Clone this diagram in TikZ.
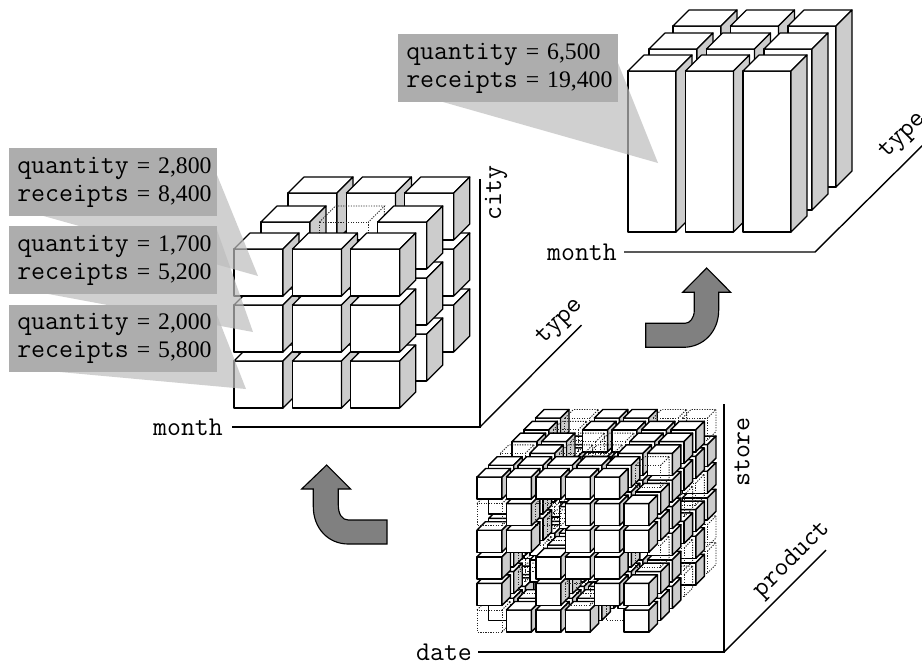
\documentclass[tikz,border=0pt]{standalone}
\usepackage{fontspec}
\setmainfont{Liberation Serif}
\usetikzlibrary{calc}
\definecolor{sidegray}{gray}{0.8}
\definecolor{boxgray}{HTML}{ADADAD}
\definecolor{wedgegray}{gray}{0.74}
\definecolor{arrowgray}{HTML}{808080}
\newcommand{\qline}[2]{{\fontsize{20.3}{21}\selectfont\ttfamily #1}\kern6pt=\kern6pt #2}
% x, y (front top left), w, h, depth, line width
\newcommand{\solidcube}[6]{%
  \draw[line width=#6,fill=white,line join=round] (#1,#2) rectangle ++(#3,#4);
  \draw[line width=#6,fill=white,line join=round] (#1,#2) -- ++(#5,-#5) -- ++(#3,0) -- ++(-#5,#5) -- cycle;
  \draw[line width=#6,fill=sidegray,line join=round] ({#1+#3},#2) -- ++(#5,-#5) -- ++(0,#4) -- ++(-#5,#5) -- cycle;
}
\newcommand{\dottedcube}[5]{%
  \draw[dotline] (#1,#2) rectangle ++(#3,#4);
  \draw[dotline] (#1,#2) -- ++(#5,-#5) -- ++(#3,0) -- ++(-#5,#5);
  \draw[dotline] ({#1+#3+#5},{#2-#5}) -- ++(0,#4) -- ++(-#5,#5);
}
\tikzset{
  dotline/.style={line width=0.7pt,dash pattern=on 0.9pt off 1.0pt,black!85},
  axisline/.style={line width=1.05pt,line join=miter},
  axislabel/.style={font=\fontsize{20.3}{24}\selectfont\ttfamily,inner sep=0pt},
  valbox/.style={fill=boxgray,inner xsep=6pt,inner ysep=0pt,text width=144pt,minimum height=50.5pt,
     align=left,anchor=north west,font=\fontsize{17.8}{21}\selectfont},
  wedge/.style={fill=wedgegray,fill opacity=0.7,draw=none},
  bigarrow/.style={fill=arrowgray,draw=black,line width=0.85pt,line join=miter}
}
\begin{document}
\begin{tikzpicture}[x=0.75pt,y=-0.75pt]
\useasboundingbox (0,0) rectangle (922,662);
\clip (0,0) rectangle (922,662);
\fill[white] (0,0) rectangle (922,662);

% ---------- top-right stacks
\foreach \rowdx/\rowdy in {45/45,21/22,0/0}{
  \foreach \cx in {628,685.5,743}{
    \pgfmathsetmacro{\px}{\cx+\rowdx}
    \pgfmathsetmacro{\py}{71-\rowdy}
    \solidcube{\px}{\py}{48}{161}{16}{0.9pt}
  }
}

% ---------- middle cube
\foreach \rowdx/\rowdy in {54/56,27/27,0/0}{
  \foreach \ry in {2,1,0}{
    \foreach \cx in {0,1,2}{
      \pgfmathsetmacro{\px}{234+58.4*\cx+\rowdx}
      \pgfmathsetmacro{\py}{249+56*\ry-\rowdy}
      \pgfmathtruncatemacro{\skipit}{(\rowdx==27)&&(\ry==0)&&(\cx==1)?1:0}
      \ifnum\skipit=1
        \dottedcube{\px}{\py}{49}{47}{16}
      \else
        \solidcube{\px}{\py}{49}{47}{16}{0.9pt}
      \fi
    }
  }
}

% ---------- large sparse cube
\foreach \dd/\tbl in {
 5/{{1,1,2,1,1,2},{1,2,1,1,1,2},{1,1,1,1,2,1},{0,1,1,2,1,1},{1,1,0,1,1,1},{1,2,1,1,2,2}},
 4/{{0,1,1,1,1,1},{1,1,1,1,2,1},{2,1,1,0,1,1},{1,0,1,1,1,2},{1,1,1,1,0,1},{1,2,1,1,1,1}},
 3/{{1,1,0,1,1,2},{0,1,1,1,1,2},{1,1,2,1,1,1},{1,1,1,2,1,2},{1,0,1,1,1,1},{1,1,2,2,1,1}},
 2/{{1,0,1,1,1,1},{2,1,1,1,1,1},{1,1,1,1,0,1},{1,2,1,1,1,1},{1,1,1,0,1,1},{2,1,2,2,1,1}},
 1/{{1,1,1,1,2,1},{1,2,1,2,1,1},{1,2,1,1,1,2},{1,1,2,1,1,1},{1,1,2,1,1,1},{1,1,1,1,1,2}},
 0/{{2,1,1,1,0,1},{1,0,1,2,1,1},{1,0,1,1,1,0},{1,1,0,1,1,1},{2,1,2,1,1,1},{1,1,1,1,1,0}}}{
  \foreach \rw [count=\ri from 0] in \tbl {
    \foreach \v [count=\ci from 0] in \rw {
      \pgfmathsetmacro{\px}{477+29.4*\ci+11.7*\dd}
      \pgfmathsetmacro{\py}{477+26.6*(5-\ri)-11.8*\dd}
      \ifnum\v=1
        \solidcube{\px}{\py}{25}{22}{8.5}{1.05pt}
      \else
        \ifnum\v=2
          \dottedcube{\px}{\py}{25}{22}{8.5}
        \fi
      \fi
    }
  }
}

% ---------- axes
\coordinate (mA) at (232,427); \coordinate (mO) at (480,427);
\coordinate (mZ) at (480,179); \coordinate (mD) at (581.5,325);
\draw[axisline] (mA) -- (mO) -- (mZ);
\draw[axisline] (mO) -- (mD);
\node[axislabel] (lmonthA) at (188,427) {month};
\node[axislabel,rotate=90] (lcity) at (496,193) {city};
\node[axislabel,rotate=45] (ltypeA) at (560,322) {type};

\coordinate (tA) at (624,252); \coordinate (tO) at (815,252); \coordinate (tD) at (925,143);
\draw[axisline] (tA) -- (tO) -- (tD);
\node[axislabel] (lmonthB) at (582,252.5) {month};
\node[axislabel,rotate=45] (ltypeB) at (903,136) {type};

\coordinate (bA) at (478,652); \coordinate (bO) at (724,652);
\coordinate (bZ) at (724,404); \coordinate (bD) at (826,550);
\draw[axisline] (bA) -- (bO) -- (bZ);
\draw[axisline] (bO) -- (bD);
\node[axislabel] (ldate) at (444,652) {date};
\node[axislabel,rotate=90] (lstore) at (742,452) {store};
\node[axislabel,rotate=45] (lproduct) at (792,560) {product};

% ---------- curved arrows
\draw[bigarrow] (706.7,268) -- (730.7,292.3) -- (718.7,292.3) -- (718.7,310)
  .. controls (718.7,332) and (703,347.3) .. (683.3,347.3)
  -- (645.7,347.3) -- (645.7,323.3) -- (685,323.3)
  .. controls (690,323.3) and (694.3,318) .. (694.3,310)
  -- (694.3,292.3) -- (682.7,292.3) -- cycle;
\draw[bigarrow] (326.7,465) -- (350.7,489) -- (338.3,489) -- (338.3,505)
  .. controls (338.3,514) and (342,520) .. (348.3,520)
  -- (387,520) -- (387,544) -- (348.3,544)
  .. controls (328,544) and (313.3,528) .. (313.3,506.7)
  -- (313.3,489) -- (301.7,489) -- cycle;

% ---------- call-out wedges and boxes
\fill[wedge] (217,175) -- (258,276) -- (40,215) -- (217,215) -- cycle;
\fill[wedge] (217,230) -- (253,332) -- (43,293) -- (217,293) -- cycle;
\fill[wedge] (217,315) -- (246,389) -- (60,372) -- (217,372) -- cycle;
\fill[wedge] (618,63) -- (658,163) -- (443,102) -- (618,102) -- cycle;
\node[valbox] (q1) at (9,148) {\qline{quantity}{2,800}\\\qline{receipts}{8,400}};
\node[valbox] (q2) at (9,226) {\qline{quantity}{1,700}\\\qline{receipts}{5,200}};
\node[valbox] (q3) at (9,304.5) {\qline{quantity}{2,000}\\\qline{receipts}{5,800}};
\node[valbox,text width=153pt] (q4) at (398,34) {\qline{quantity}{6,500}\\\qline{receipts}{19,400}};
\end{tikzpicture}
\end{document}
